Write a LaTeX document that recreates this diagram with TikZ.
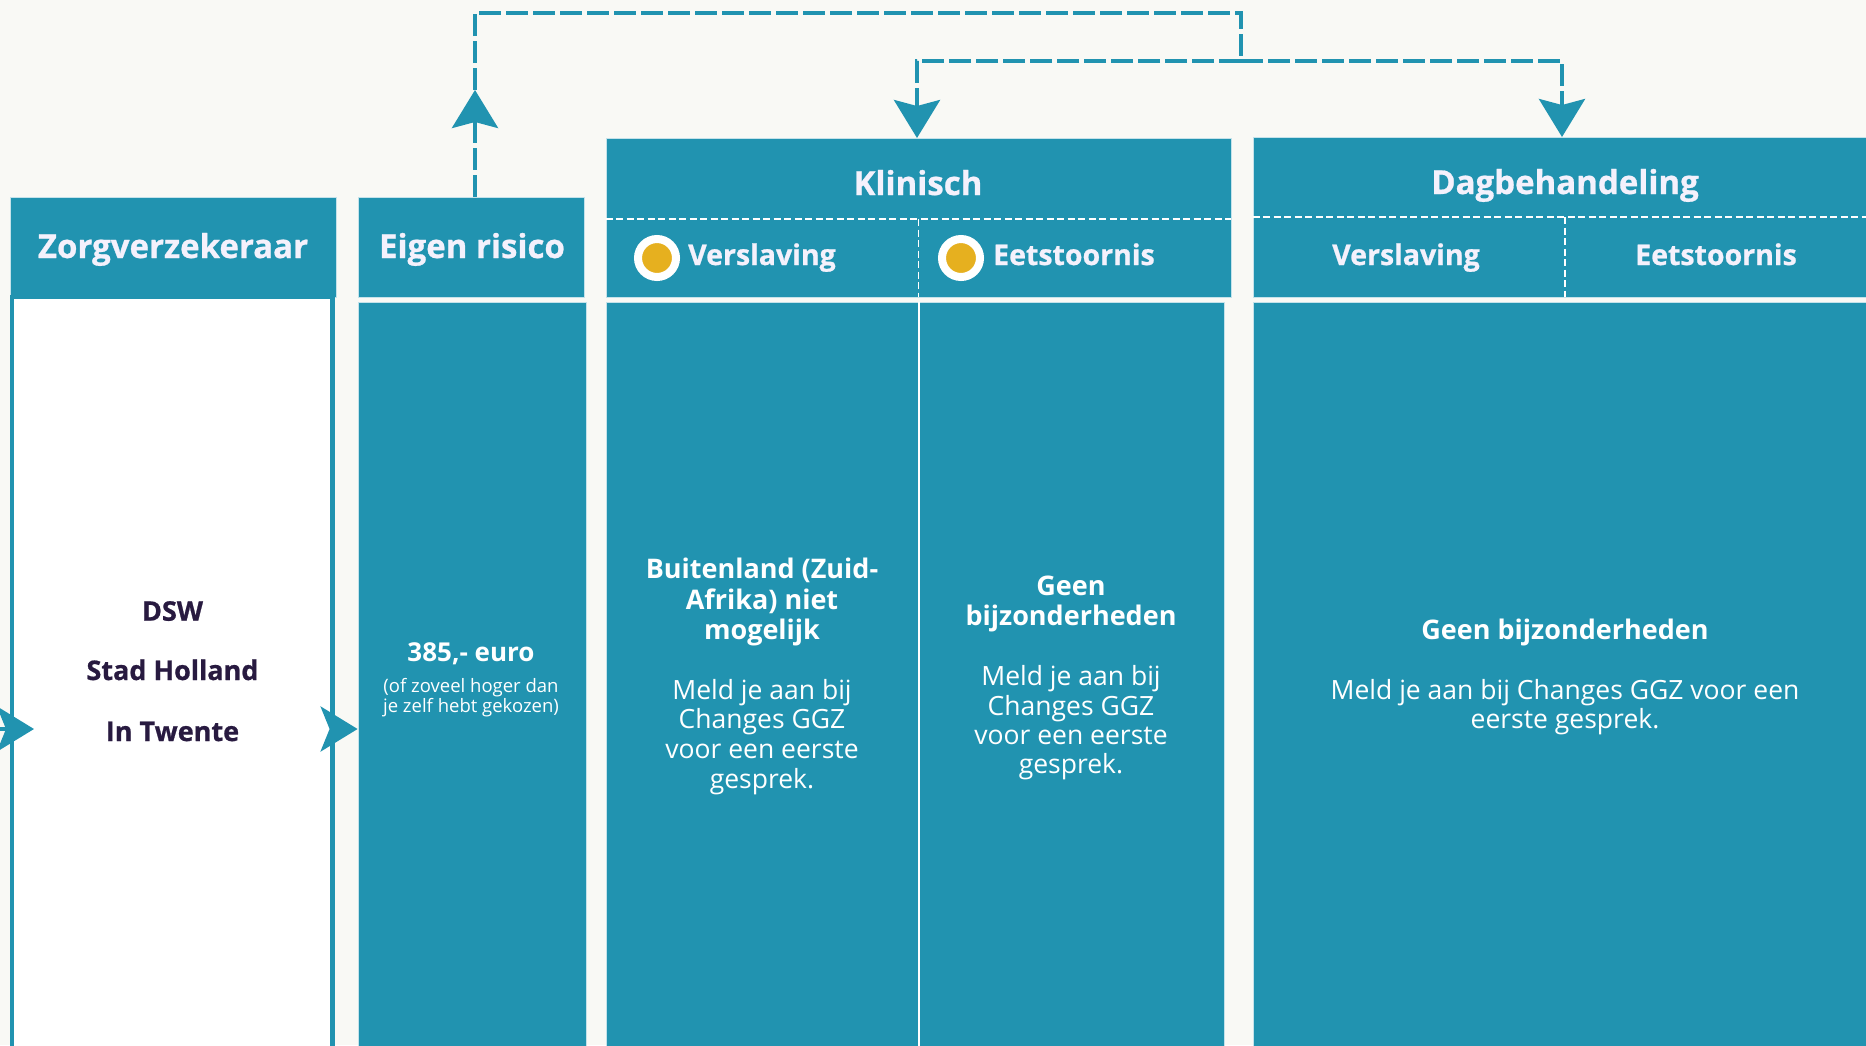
\documentclass[tikz,border=0pt]{standalone}
\usepackage{fontspec}
\setmainfont{Open Sans}
\newfontfamily\hvy{Open Sans}[FakeBold=0.8]
\usetikzlibrary{arrows.meta}
\definecolor{tealA}{RGB}{33,147,176}
\definecolor{bgA}{RGB}{249,249,245}
\definecolor{hdtext}{RGB}{244,241,252}
\definecolor{darktext}{RGB}{40,26,64}
\definecolor{goldA}{RGB}{230,176,31}
\definecolor{edgeA}{RGB}{196,226,234}
\begin{document}
\begin{tikzpicture}[x=1pt,y=-1pt,
  box/.style={rectangle, fill=tealA, draw=edgeA, line width=0.8pt, inner sep=0pt},
  conn/.style={draw=tealA, line width=4pt, dash pattern=on 22pt off 5pt},
  tipT/.style={-{Stealth[length=38pt,width=46pt,inset=6pt]}},
  tipS/.style={-{Stealth[length=37pt,width=45pt,inset=9pt]}},
  hdash/.style={draw=white, line width=1.6pt, dash pattern=on 7pt off 3.5pt},
  hd/.style={text=hdtext, font=\fontsize{33}{36}\selectfont\hvy\bfseries, inner sep=0pt, anchor=base},
  sub/.style={text=hdtext, font=\fontsize{28.5}{32}\selectfont\hvy\bfseries, inner sep=0pt, anchor=base},
  bt/.style={text=white, font=\fontsize{27}{30}\selectfont\bfseries, inner sep=0pt, anchor=base},
  rt/.style={text=white, font=\fontsize{26.5}{30}\selectfont, inner sep=0pt, anchor=base},
  dk/.style={text=darktext, font=\fontsize{27}{30}\selectfont\hvy\bfseries, inner sep=0pt, anchor=base},
  sm/.style={text=white, font=\fontsize{18.5}{21}\selectfont, inner sep=0pt, anchor=base},
  dot/.style={circle, fill=goldA, draw=white, line width=8pt, minimum size=38pt, inner sep=0pt}
]
\useasboundingbox (0,0) rectangle (1866,1045);
\fill[bgA] (0,0) rectangle (1866,1045);

% headers
\node[box, minimum width=326.5pt, minimum height=100pt] (zorgH) at (173.25,247) {};
\node[box, minimum width=226pt, minimum height=100pt] (eigenH) at (471,247) {};
\node[box, minimum width=625pt, minimum height=159pt] (klinH) at (918.5,217.5) {};
\node[box, minimum width=624pt, minimum height=160pt] (dagH) at (1565,217) {};

% bodies
\node[rectangle, fill=white, draw=tealA, line width=4.5pt, inner sep=0pt,
      minimum width=320.5pt, minimum height=770pt] (zorgB) at (172.25,682) {};
\node[box, minimum width=228pt, minimum height=763pt] (eigenB) at (472,683.5) {};
\node[box, minimum width=618pt, minimum height=763pt] (klinB) at (915,683.5) {};
\node[box, minimum width=624pt, minimum height=763pt] (dagB) at (1565,683.5) {};

% header dividers
\draw[hdash] (klinH.west |- 0,219) -- (klinH.east |- 0,219);
\draw[hdash] (klinH.south |- 0,219) -- (klinH.south);
\draw[hdash] (dagH.west |- 0,217) -- (dagH.east |- 0,217);
\draw[hdash] (dagH.south |- 0,217) -- (dagH.south);
\draw[white, line width=2pt] (klinH.south |- klinB.north) -- (klinH.south |- klinB.south);

% dots
\node[dot] (dot1) at (657,258) {};
\node[dot] (dot2) at (961,258) {};

% connectors
\coordinate (upTip) at (475,90);
\coordinate (split) at (1241,61);
\coordinate (klinIn) at (917,138);
\coordinate (dagIn) at (1562,137);
\coordinate (leftIn) at (-30,729);
\coordinate (leftTip) at (34,729);
\draw[conn, tipT] ([xshift=4pt]eigenH.north) -- (upTip);
\draw[conn] (upTip) -- (upTip |- 0,13) -| (split);
\draw[conn, tipT] (split) -| (klinIn);
\draw[conn, tipT] (split) -| (dagIn);
\draw[tealA, line width=4pt, tipS] (leftIn) -- (leftTip);
\draw[tealA, line width=4pt, tipS] (zorgB.east |- 0,729) -- (eigenB.west |- 0,729);

% header texts
\node[hd] (tZorg) at (173,258) {Zorgverzekeraar};
\node[hd] (tEigen) at (472,258) {Eigen risico};
\node[hd] (tKlin) at (918,195) {Klinisch};
\node[hd] (tDag) at (1565,194) {Dagbehandeling};
\node[sub, anchor=base west] (tKV) at (688,265) {Verslaving};
\node[sub, anchor=base west] (tKE) at (993,265) {Eetstoornis};
\node[sub] (tDV) at (1406,265) {Verslaving};
\node[sub] (tDE) at (1716,265) {Eetstoornis};

% zorgverzekeraar body
\node[dk] (z1) at (172.5,620.7) {DSW};
\node[dk] (z2) at (172.5,680) {Stad Holland};
\node[dk] (z3) at (172.5,741) {In Twente};

% eigen risico body
\node[bt, font=\fontsize{26}{30}\selectfont\bfseries] (e1) at (471,661.7) {385,- euro};
\node[sm] (e2) at (471,692.5) {(of zoveel hoger dan};
\node[sm] (e3) at (471,712.5) {je zelf hebt gekozen)};

% klinisch left
\node[bt] (a1) at (762,578.5) {Buitenland (Zuid-};
\node[bt] (a2) at (762,609) {Afrika) niet};
\node[bt] (a3) at (762,639.3) {mogelijk};
\node[rt] (a4) at (762,699) {Meld je aan bij};
\node[rt] (a5) at (762,728.7) {Changes GGZ};
\node[rt] (a6) at (762,758.3) {voor een eerste};
\node[rt] (a7) at (762,788) {gesprek.};

% klinisch right
\node[bt] (b1) at (1071,595) {Geen};
\node[bt] (b2) at (1071,625) {bijzonderheden};
\node[rt] (b3) at (1071,685.7) {Meld je aan bij};
\node[rt] (b4) at (1071,715) {Changes GGZ};
\node[rt] (b5) at (1071,744.3) {voor een eerste};
\node[rt] (b6) at (1071,773.5) {gesprek.};

% dagbehandeling
\node[bt] (d1) at (1565,639.3) {Geen bijzonderheden};
\node[rt] (d2) at (1565,699.3) {Meld je aan bij Changes GGZ voor een};
\node[rt] (d3) at (1565,728.3) {eerste gesprek.};
\end{tikzpicture}
\end{document}
